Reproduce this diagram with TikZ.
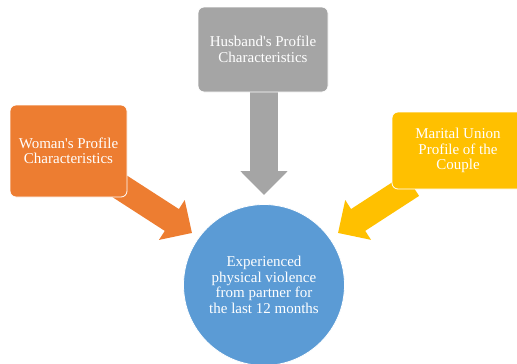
\documentclass[tikz,border=0pt]{standalone}
\usepackage{fontspec}
\setmainfont{Liberation Serif}[Ligatures=TeXOff]
\usetikzlibrary{arrows.meta}
\definecolor{offorange}{HTML}{ED7D31}
\definecolor{offgray}{HTML}{A5A5A5}
\definecolor{offyellow}{HTML}{FFC000}
\definecolor{offblue}{HTML}{5B9BD5}
\tikzset{
  box/.style={draw=white, line width=0.8pt, rounded corners=6pt, inner sep=0pt,
    text=white, align=center, font=\fontsize{15}{15.5}\selectfont},
  blockarrow/.style={line width=#1, -{Triangle[width=46pt,length=24pt]}},
  hub/.style={circle, draw=white, line width=0.8pt, fill=offblue, text=white, align=center,
    inner sep=0pt, minimum size=161pt, font=\fontsize{15}{15.6}\selectfont}
}
\begin{document}
\begin{tikzpicture}[x=1pt,y=-1pt]
\useasboundingbox (0,0) rectangle (517,364);
\clip (0,0) rectangle (517,364);
% arrow ends
\coordinate (ws) at (113,182);
\coordinate (wt) at (192,233);
\coordinate (hs) at (264,88);
\coordinate (ht) at (264,195);
\coordinate (ms) at (412,185);
\coordinate (mt) at (338,233);
\draw[blockarrow=26pt, offorange] (ws) -- (wt);
\draw[blockarrow=28pt, offgray] (hs) -- (ht);
\draw[blockarrow=26pt, offyellow] (ms) -- (mt);
% boxes
\node[box, fill=offorange, minimum width=117pt, minimum height=92pt] (woman) at (68.5,151) {Woman's Profile\\Characteristics};
\node[box, fill=offgray, minimum width=130pt, minimum height=85pt] (husband) at (263,49.5) {Husband's Profile\\Characteristics};
\node[box, fill=offyellow, minimum width=132pt, minimum height=77pt] (marital) at (458,150.5) {Marital Union\\Profile of the\\Couple};
% hub
\node[hub] (hub) at (264,285) {Experienced\\physical violence\\from partner for\\the last 12 months};
\end{tikzpicture}
\end{document}
